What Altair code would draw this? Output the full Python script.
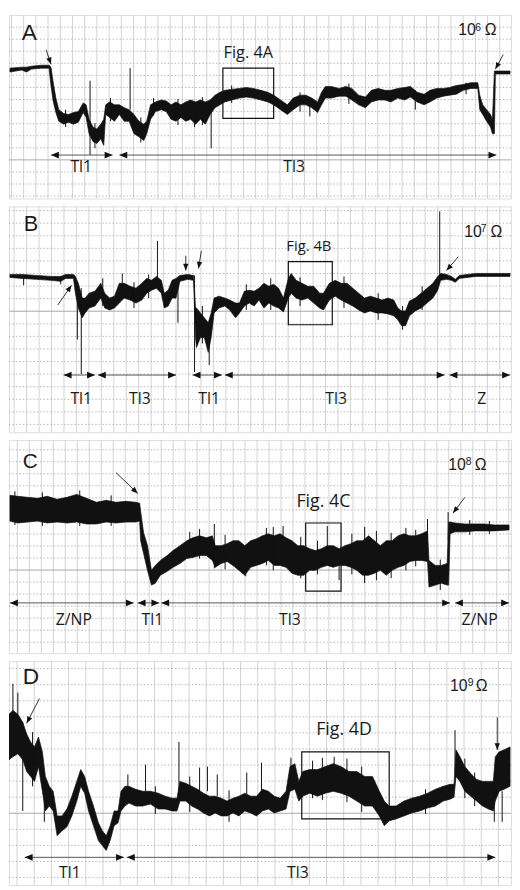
import math
import altair as alt
import pandas as pd

# ---------------- data (time units, signal level) ----------------
# Panel A (10^6 ohm)
A_T = [3,15,20,25,35,43,45,47,50,53,58,63,68,73,78,81,84,88,92,96,99,101,105,110,115,120,125,130,135,140,143,147,152,158,163,168,173,178,183,188,193,198,203,208,213,218,223,230,238,245,252,260,267,273,280,287,293,300,306,312,318,322,326,332,340,347,353,360,367,373,380,387,393,400,407,413,420,427,433,440,447,453,460,467,475,482,484,487,491,495,497,499,500,510,515]
A_HI = [135,136,136,137,138,138,136,122,104,92,88,87,89,90,99,97,82,74,72,77,82,97,100,97,97,94,92,87,80,77,80,97,100,102,101,97,100,97,100,102,100,102,100,102,107,110,112,113,114,115,114,112,110,107,102,97,104,107,107,104,100,110,116,116,114,116,114,107,105,112,114,112,112,114,115,116,110,108,112,114,114,115,117,118,120,120,107,97,92,87,82,132,132,132,132]
A_LO = [131,133,131,134,135,135,117,102,89,80,77,79,77,79,89,84,67,59,57,62,55,87,84,80,87,80,80,67,64,60,67,82,90,92,90,82,80,84,80,82,77,82,77,87,94,97,100,102,104,105,104,102,100,97,92,87,92,97,97,94,89,97,104,104,106,106,102,97,94,100,102,102,100,104,102,105,100,97,100,104,106,107,108,112,114,114,92,87,80,74,67,67,129,129,129]
A_SPK_T = [85, 126, 192, 209, 310, 60, 90, 106, 137, 150, 175, 200, 230, 300, 350, 418, 470]
A_SPK_HI = [122, 135, 97, 92, 97, 92, 78, 104, 84, 104, 103, 105, 117, 110, 119, 112, 120]
A_SPK_LO = [45, 92, 74, 52, 85, 74, 52, 80, 58, 86, 76, 76, 99, 90, 98, 92, 108]
A_BOX = [221, 273, 135, 83]
A_ROW = 45
A_SEG_A = [45, 115]
A_SEG_B = [108, 501]
A_DIAG = [(40, 154, 45, 139), (508, 149, 500, 134)]
A_LABELS = ["Tl1", "Tl3"]
A_LABEL_T = [76, 294]
A_LABEL_V = 27

# Panel B (10^7 ohm)
B_T = [3,15,30,45,55,60,68,70,73,77,80,84,90,96,100,105,110,115,120,126,132,138,143,148,153,158,161,165,169,173,177,185,191,193,194,198,202,206,209,212,217,223,228,234,238,243,248,253,258,263,268,273,278,283,288,291,296,302,308,314,320,324,330,336,342,348,354,360,366,372,378,384,390,396,400,404,408,412,418,424,430,436,441,444,450,455,459,463,480,500,515]
B_HI = [160,160,159,158,158,160,160,158,151,136,136,141,143,151,141,136,138,151,151,148,146,151,156,154,158,154,141,144,154,156,159,160,159,126,126,121,116,111,121,136,138,136,134,131,131,143,144,143,146,151,148,150,146,136,156,161,154,151,148,148,141,141,151,154,151,151,146,141,136,138,136,134,136,134,126,123,123,133,136,141,146,151,158,161,160,158,155,159,161,161,161]
B_LO = [157,156,155,154,153,156,156,141,126,116,121,126,128,136,126,124,126,131,136,134,131,134,141,144,146,141,126,128,136,136,153,155,154,96,86,96,96,81,96,121,126,128,124,116,121,128,131,128,134,126,131,128,126,122,136,141,136,134,136,131,126,124,134,138,134,131,128,124,121,123,121,121,120,118,114,108,108,118,123,126,131,136,144,154,155,154,152,156,158,158,158]
B_SPK_T = [17, 55, 72, 76, 118, 154, 175, 192, 207, 443, 98, 130, 145, 200, 245, 270, 300, 345, 380, 405, 425]
B_SPK_HI = [158, 158, 151, 146, 161, 194, 156, 159, 106, 224, 156, 152, 160, 128, 150, 156, 157, 158, 141, 128, 148]
B_SPK_LO = [149, 150, 94, 59, 141, 151, 111, 61, 68, 158, 128, 126, 136, 90, 124, 124, 128, 126, 114, 104, 124]
B_BOX = [288, 333, 173, 109]
B_ROW = 58
B_SEG_A = [58, 93, 190, 223, 453]
B_SEG_B = [90, 173, 220, 448, 515]
B_DIAG = [(52, 129, 66, 149), (183, 179, 183, 164), (199, 184, 196, 166), (462, 178, 450, 164)]
B_LABELS = ["Tl1", "Tl3", "Tl1", "Tl3", "Z"]
B_LABEL_T = [76, 136, 207, 337, 486]
B_LABEL_V = 29

# Panel C (10^8 ohm)
C_T = [7,15,25,35,45,55,65,75,85,95,105,115,125,135,139,140,143,147,151,155,160,167,173,180,187,193,200,207,213,216,222,228,234,240,246,252,258,264,270,276,282,288,294,300,306,312,318,324,330,336,342,348,354,360,366,372,378,384,390,396,402,408,414,420,426,432,433.5,440,446,452,453.5,455,460,470,480,490,500,515]
C_HI = [160,159,158,157,159,156,158,161,157,153,155,153,154,153,152,144,122,109,84,89,94,99,104,109,114,117,119,117,119,109,109,111,114,114,109,114,116,119,121,119,121,117,114,109,109,106,104,106,109,109,106,109,111,114,114,119,114,109,114,114,119,121,119,119,121,124,94,89,89,91,133,133,132,131,131,131,130,130]
C_LO = [134,132,133,134,132,133,132,133,131,131,133,132,133,133,134,114,101,84,69,71,79,83,87,91,96,97,99,99,94,87,91,93,89,84,79,87,89,91,94,89,89,87,81,79,79,84,84,87,89,87,89,89,87,84,79,79,81,84,79,84,87,89,93,94,94,93,67,69,71,69,69,121,123,123,124,124,124,125]
C_SPK_T = [190, 215, 247, 268, 285, 330, 342, 368, 432, 453, 12, 40, 78, 110, 200, 226, 275, 303, 320, 355, 380, 395, 410, 420, 445, 475, 495]
C_SPK_HI = [123, 131, 104, 127, 129, 129, 89, 128, 136, 143, 164, 163, 165, 160, 126, 120, 128, 118, 114, 121, 124, 122, 127, 125, 95, 135, 134]
C_SPK_LO = [99, 86, 78, 89, 104, 104, 74, 71, 94, 114, 130, 129, 129, 129, 96, 85, 84, 76, 80, 80, 74, 76, 84, 88, 64, 120, 121]
C_BOX = [308, 344, 132, 63]
C_ROW = 51
C_SEG_A = [7, 137, 161, 460]
C_SEG_B = [133, 159, 455, 515]
C_DIAG = [(115, 183, 137, 162), (470, 158, 458, 142)]
C_LABELS = ["Z/NP", "Tl1", "Tl3", "Z/NP"]
C_LABEL_T = [72, 152, 292, 485]
C_LABEL_V = 29

# Panel D (10^9 ohm)
D_T = [6,10,15,20,24,28,32,36,40,43,47,51,55,60,65,70,75,79,83,87,92,97,101,105,109,113,117,120,124,128,135,142,150,158,165,172,177,180,186,192,198,204,210,216,222,228,234,240,246,252,258,264,270,276,282,288,292,297,301,305,312,320,328,336,344,352,360,368,376,383,388,393,400,408,416,424,432,440,448,455,459,461,465,470,476,482,488,494,499,501,505,510,516]
D_HI = [173,177,173,165,153,145,140,150,135,110,100,95,70,70,77,90,105,117,110,95,80,63,55,50,60,75,75,95,100,100,97,95,95,93,90,88,88,105,103,100,97,93,90,90,88,85,88,90,93,90,90,97,95,90,88,95,120,123,105,115,117,117,120,123,120,115,115,110,110,95,85,80,80,85,88,90,93,97,100,102,102,137,130,120,113,107,105,105,105,130,135,137,140]
D_LO = [127,130,133,127,115,110,105,120,95,75,80,75,50,55,59,70,85,100,93,75,60,45,40,35,45,60,63,75,80,83,80,80,82,77,77,75,75,85,85,80,77,73,70,73,70,70,73,70,75,73,70,75,77,73,75,77,95,97,85,90,93,90,93,95,93,90,85,80,80,70,60,65,67,70,73,75,78,80,85,87,89,110,105,95,90,85,80,77,75,85,95,97,100]
D_SPK_T = [10, 15, 20, 42, 127, 145, 179, 200, 208, 218, 248, 263, 293, 337, 460, 500, 508, 30, 155, 190, 230, 315, 325, 350, 365, 430, 470, 480]
D_SPK_HI = [204, 195, 165, 105, 112, 122, 145, 119, 120, 112, 114, 124, 129, 130, 157, 105, 95, 155, 100, 110, 96, 126, 129, 128, 120, 97, 128, 114]
D_SPK_LO = [170, 170, 75, 64, 85, 95, 95, 95, 95, 90, 90, 90, 105, 105, 115, 64, 64, 100, 72, 74, 64, 88, 86, 84, 74, 72, 88, 80]
D_BOX = [304, 393, 135, 67]
D_ROW = 28
D_SEG_A = [22, 126]
D_SEG_B = [123, 501]
D_DIAG = [(37, 189, 24, 164), (503, 170, 503, 137)]
D_LABELS = ["Tl1", "Tl3"]
D_LABEL_T = [68, 300]
D_LABEL_V = 7

# panel titles / annotations
LETTERS = ["A", "B", "C", "D"]
EXPONENTS = ["6", "7", "8", "9"]
FIG_LABELS = ["Fig. 4A", "Fig. 4B", "Fig. 4C", "Fig. 4D"]

# ---------------- layout (styles / positions of annotations) ----------------
INK = "#111111"
TXT = "#1a1a1a"
WIDTH = 509
LEFT_HEAD = "M0,0L2,-0.85L2,0.85Z"
RIGHT_HEAD = "M0,0L-2,-0.85L-2,0.85Z"
UP_HEAD = "M0,0L-0.8,2L0.8,2Z"

PANELS = [
    dict(t=A_T, hi=A_HI, lo=A_LO, spk=(A_SPK_T, A_SPK_HI, A_SPK_LO), box=A_BOX, row=A_ROW,
         sa=A_SEG_A, sb=A_SEG_B, diag=A_DIAG, labs=A_LABELS, labt=A_LABEL_T, labv=A_LABEL_V,
         tdom=(2, 516), vdom=190, height=186, gx=(4.5, 12.5), gy=(40, 12.5),
         letter=(15, 164, 23), ohm=(462, 169, 479.5, 173, 489), fig=(247, 145, 16.5)),
    dict(t=B_T, hi=B_HI, lo=B_LO, spk=(B_SPK_T, B_SPK_HI, B_SPK_LO), box=B_BOX, row=B_ROW,
         sa=B_SEG_A, sb=B_SEG_B, diag=B_DIAG, labs=B_LABELS, labt=B_LABEL_T, labv=B_LABEL_V,
         tdom=(2, 516), vdom=229, height=229, gx=(7.3, 12.75), gy=(122.7, 12.75),
         letter=(17, 204, 22), ohm=(468, 198, 485, 203, 495), fig=(309, 184, 15)),
    dict(t=C_T, hi=C_HI, lo=C_LO, spk=(C_SPK_T, C_SPK_HI, C_SPK_LO), box=C_BOX, row=C_ROW,
         sa=C_SEG_A, sb=C_SEG_B, diag=C_DIAG, labs=C_LABELS, labt=C_LABEL_T, labv=C_LABEL_V,
         tdom=(6, 517), vdom=216, height=216, gx=(2.3, 12.2), gy=(84.3, 12.2),
         letter=(20, 188, 21), ohm=(453, 186, 471, 191, 480), fig=(326, 148, 18)),
    dict(t=D_T, hi=D_HI, lo=D_LO, spk=(D_SPK_T, D_SPK_HI, D_SPK_LO), box=D_BOX, row=D_ROW,
         sa=D_SEG_A, sb=D_SEG_B, diag=D_DIAG, labs=D_LABELS, labt=D_LABEL_T, labv=D_LABEL_V,
         tdom=(6, 517), vdom=227, height=227, gx=(14.2, 17.5), gy=(72.7, 16.3),
         letter=(20, 204, 23), ohm=(455, 197, 473, 202, 481), fig=(347, 152, 18)),
]


def grid_x(start, step, lo, hi):
    vals, v = [], start
    while v < hi - 1:
        if v > lo + 1:
            vals.append(round(v, 2))
        v += step
    return vals


def grid_y(base, step, top):
    vals = []
    for k in range(-20, 40):
        v = base + k * step
        if 1 < v < top - 1 and k != 0:
            vals.append(round(v, 2))
    return vals


def make_panel(i, P):
    t0, t1 = P["tdom"]
    H = P["vdom"]
    hp = P["height"]
    xs = alt.Scale(domain=[t0, t1], nice=False, zero=False)
    ys = alt.Scale(domain=[0, H], nice=False, zero=False)

    def X(f):
        return alt.X(f, type="quantitative", scale=xs, axis=None)

    def Y(f):
        return alt.Y(f, type="quantitative", scale=ys, axis=None)

    vgrid = alt.Chart(pd.DataFrame({"g": grid_x(P["gx"][0], P["gx"][1], t0, t1)})).mark_rule(
        color="#d2d2d2", strokeWidth=1).encode(x=X("g"))
    hgrid = alt.Chart(pd.DataFrame({"g": grid_y(P["gy"][0], P["gy"][1], H)})).mark_rule(
        color="#b8b8b8", strokeWidth=1, strokeDash=[1.5, 2]).encode(y=Y("g"))
    solid = alt.Chart(pd.DataFrame({"g": [P["gy"][0]]})).mark_rule(
        color="#a9a9a9", strokeWidth=1).encode(y=Y("g"))

    trace_df = pd.DataFrame({"t": P["t"], "hi": P["hi"], "lo": P["lo"]})
    trace = alt.Chart(trace_df).mark_area(color=INK, stroke=INK, strokeWidth=0.7, clip=True).encode(
        x=X("t"), y=Y("hi"), y2="lo")

    st, sh, sl = P["spk"]
    spikes = alt.Chart(pd.DataFrame({"t": st, "hi": sh, "lo": sl})).mark_rule(
        color=INK, strokeWidth=1, clip=True).encode(x=X("t"), y=Y("hi"), y2="lo")

    b = P["box"]
    box = alt.Chart(pd.DataFrame({"a": [b[0]], "b": [b[1]], "top": [b[2]], "bot": [b[3]]})).mark_rect(
        filled=False, stroke=INK, strokeWidth=1.2).encode(x=X("a"), x2="b", y=Y("top"), y2="bot")

    seg_df = pd.DataFrame({"a": P["sa"], "b": P["sb"], "v": [P["row"]] * len(P["sa"])})
    seg = alt.Chart(seg_df).mark_rule(color="#555555", strokeWidth=1).encode(x=X("a"), x2="b", y=Y("v"))
    lhead = alt.Chart(seg_df).mark_point(shape=LEFT_HEAD, filled=True, size=64, color=INK, opacity=1,
                                         strokeWidth=0).encode(x=X("a"), y=Y("v"))
    rhead = alt.Chart(seg_df).mark_point(shape=RIGHT_HEAD, filled=True, size=64, color=INK, opacity=1,
                                         strokeWidth=0).encode(x=X("b"), y=Y("v"))

    sx = WIDTH / (t1 - t0)
    sy = hp / H
    drows = []
    for (x1, v1, x2, v2) in P["diag"]:
        u = (x2 - x1) * sx
        w = -(v2 - v1) * sy
        ang = math.degrees(math.atan2(u, -w)) % 360
        drows.append({"x1": x1, "v1": v1, "x2": x2, "v2": v2, "ang": ang})
    ddf = pd.DataFrame(drows)
    dline = alt.Chart(ddf).mark_rule(color="#333333", strokeWidth=1).encode(
        x=X("x1"), y=Y("v1"), x2="x2", y2="v2")
    dhead = alt.Chart(ddf).mark_point(shape=UP_HEAD, filled=True, size=46, color=INK, opacity=1,
                                      strokeWidth=0).encode(
        x=X("x2"), y=Y("v2"), angle=alt.Angle("ang:Q", scale=None))

    lab_df = pd.DataFrame({"s": P["labs"], "t": P["labt"], "v": [P["labv"]] * len(P["labs"])})
    labs = alt.Chart(lab_df).mark_text(font="Open Sans", fontSize=16, align="center",
                                       baseline="alphabetic", color=TXT).encode(x=X("t"), y=Y("v"), text="s:N")

    fx, fv, fs = P["fig"]
    fig = alt.Chart(pd.DataFrame({"s": [FIG_LABELS[i]], "t": [fx], "v": [fv]})).mark_text(
        font="Open Sans", fontSize=fs, align="center", baseline="alphabetic", color=TXT).encode(
        x=X("t"), y=Y("v"), text="s:N")

    lx, lv, ls = P["letter"]
    letter = alt.Chart(pd.DataFrame({"s": [LETTERS[i]], "t": [lx], "v": [lv]})).mark_text(
        font="Liberation Sans", fontSize=ls, align="left", baseline="alphabetic", color=TXT).encode(
        x=X("t"), y=Y("v"), text="s:N")

    ox, ov, sxp, svp, wx = P["ohm"]
    ohm_base = alt.Chart(pd.DataFrame({"s": ["10", "\u03a9"], "t": [ox, wx], "v": [ov, ov]})).mark_text(
        font="Liberation Sans", fontSize=16, align="left", baseline="alphabetic", color=TXT).encode(
        x=X("t"), y=Y("v"), text="s:N")
    ohm_sup = alt.Chart(pd.DataFrame({"s": [EXPONENTS[i]], "t": [sxp], "v": [svp]})).mark_text(
        font="Liberation Sans", fontSize=10.5, align="left", baseline="alphabetic", color=TXT).encode(
        x=X("t"), y=Y("v"), text="s:N")

    return alt.layer(vgrid, hgrid, solid, trace, spikes, box, seg, lhead, rhead, dline, dhead,
                     labs, fig, letter, ohm_base, ohm_sup).properties(width=WIDTH, height=hp)


panels = [make_panel(i, P) for i, P in enumerate(PANELS)]
chart = alt.vconcat(*panels, spacing=6, padding=0).configure_view(
    stroke="#3a3a3a", strokeWidth=1.6).configure(background="white")

chart.save("out.html", embed_options={"renderer": "svg", "actions": False})
